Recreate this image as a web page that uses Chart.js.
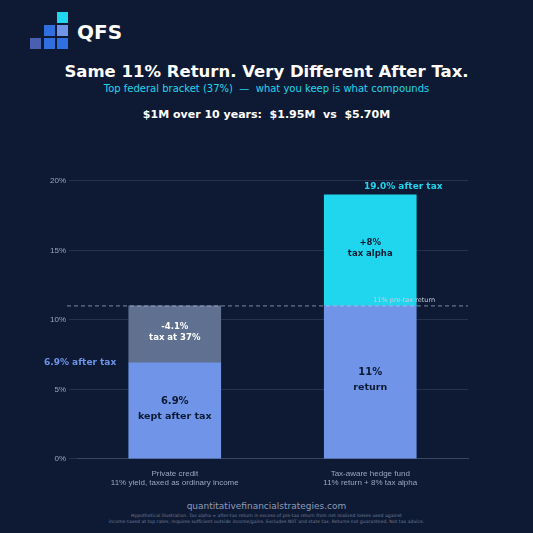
<!DOCTYPE html><html><head><meta charset="utf-8">
<script src="https://cdn.jsdelivr.net/npm/chart.js@4"></script>
<style>
body{margin:0;background:#0e1a33;width:533px;height:533px;overflow:hidden;font-family:"DejaVu Sans",sans-serif;position:relative}
#c{position:absolute;left:0;top:0}
.t{position:absolute;width:533px;text-align:center;left:0}
</style></head><body>
<div style="position:absolute;left:30px;top:12px">
<div style="position:absolute;left:27px;top:0;width:11px;height:11px;background:#1fd6ee"></div>
<div style="position:absolute;left:14px;top:13px;width:11px;height:11px;background:#2f6fe0"></div>
<div style="position:absolute;left:27px;top:13px;width:11px;height:11px;background:#6f94e8"></div>
<div style="position:absolute;left:0;top:26px;width:11px;height:11px;background:#4a5fb0"></div>
<div style="position:absolute;left:14px;top:26px;width:11px;height:11px;background:#2f6fe0"></div>
<div style="position:absolute;left:27px;top:26px;width:11px;height:11px;background:#2f6fe0"></div>
<div style="position:absolute;left:47px;top:8px;color:#fff;font-weight:bold;font-size:20px">QFS</div>
</div>
<div class="t" style="top:62px;color:#fff;font-weight:bold;font-size:16.5px">Same 11% Return. Very Different After Tax.</div>
<div class="t" style="top:83px;color:#1fd6ee;font-size:10px">Top federal bracket (37%)&nbsp; —&nbsp; what you keep is what compounds</div>
<div class="t" style="top:108px;color:#fff;font-weight:bold;font-size:11px">$1M over 10 years:&nbsp; $1.95M&nbsp; vs&nbsp; $5.70M</div>
<div class="t" style="top:501px;color:#8f9bb8;font-size:9px">quantitativefinancialstrategies.com</div>
<div class="t" style="top:513px;color:#6f7b98;font-size:4.6px;line-height:6px">Hypothetical illustration. Tax alpha = after-tax return in excess of pre-tax return from net realized losses used against<br>income taxed at top rates; requires sufficient outside income/gains. Excludes NIIT and state tax. Returns not guaranteed. Not tax advice.</div>
<canvas id="c" width="533" height="533"></canvas>
<script>
const categories=[["Private credit","11% yield, taxed as ordinary income"],["Tax-aware hedge fund","11% return + 8% tax alpha"]];
const baseValues=[6.9,11];
const topValues=[4.1,8];
const baseLabels=[["6.9%","kept after tax"],["11%","return"]];
const topLabels=[["-4.1%","tax at 37%"],["+8%","tax alpha"]];
const preTax=11;
const plug={id:'p',afterDatasetsDraw(ch){
 const c=ch.ctx,y=ch.scales.y,a=ch.chartArea;
 const yp=y.getPixelForValue(preTax);
 c.save();c.setLineDash([4,3]);c.strokeStyle='rgba(200,210,230,0.6)';c.lineWidth=1;
 c.beginPath();c.moveTo(a.left-10,yp);c.lineTo(a.right,yp);c.stroke();c.setLineDash([]);
 c.font='6.5px DejaVu Sans';c.fillStyle='#c8d0e0';c.textAlign='left';
 const m1=ch.getDatasetMeta(1).data[1];
 c.fillText('11% pre-tax return',m1.x+3,yp-4);
 c.textAlign='center';
 [0,1].forEach(ds=>{ch.getDatasetMeta(ds).data.forEach((b,i)=>{
   const lab=ds==0?baseLabels[i]:topLabels[i];
   const cy=(b.y+b.base)/2;
   const big=ds==0;
   c.fillStyle=(ds==1&&i==0)?'#fff':'#0e1a33';
   c.font='bold '+(big?10:8.5)+'px DejaVu Sans';
   c.fillText(lab[0],b.x,cy-(big?7:5));
   c.font='bold '+(big?9.5:8.5)+'px DejaVu Sans';
   c.fillText(lab[1],b.x,cy+(big?8:6));
 });});
 const t1=ch.getDatasetMeta(1).data[1];
 c.font='bold 9px DejaVu Sans';c.fillStyle='#1fd6ee';
 c.fillText('19.0% after tax',t1.x+33,y.getPixelForValue(baseValues[1]+topValues[1])-6);
 c.fillStyle='#6f94e8';c.textAlign='left';
 c.fillText('6.9% after tax',44,y.getPixelForValue(baseValues[0])+2);
 c.restore();
}};
new Chart(document.getElementById('c'),{type:'bar',
data:{labels:categories,datasets:[
 {data:baseValues,backgroundColor:'#6f94e8',barThickness:92},
 {data:topValues,backgroundColor:['#5f7090','#1fd6ee'],barThickness:92}]},
options:{responsive:false,animation:false,layout:{padding:{top:160,left:47,right:65,bottom:43}},
 plugins:{legend:{display:false},tooltip:{enabled:false}},
 scales:{x:{stacked:true,grid:{display:false},border:{color:'#3a4560'},ticks:{color:'#9aa6c0',font:{size:8},padding:2}},
  y:{stacked:true,min:0,max:21.5,afterBuildTicks(s){s.ticks=[0,5,10,15,20].map(v=>({value:v}));},
   grid:{color:'rgba(80,95,130,0.35)'},border:{display:false},
   ticks:{color:'#9aa6c0',font:{size:8},callback:v=>v+'%'}}}},
plugins:[plug]});
</script></body></html>
